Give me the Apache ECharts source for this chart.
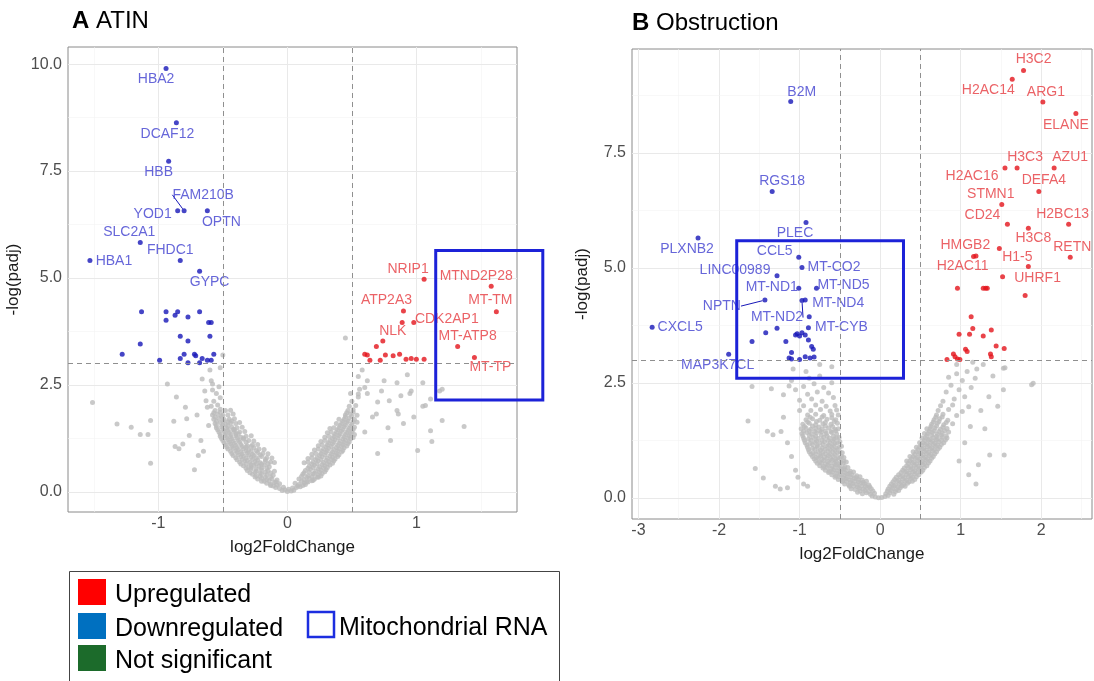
<!DOCTYPE html>
<html>
<head>
<meta charset="utf-8">
<script src="https://cdn.jsdelivr.net/npm/echarts@6/dist/echarts.min.js"></script>
<style>
html, body { margin: 0; padding: 0; background: #fff; }
#chart { width: 1094px; height: 681px; }
</style>
</head>
<body>
<div id="chart"></div>
<script>
// ---- panel A (ATIN) ----
const aDown = [
  [-0.94, 9.90, 'HBA2'], [-0.86, 8.63, 'DCAF12'], [-0.92, 7.73, 'HBB'],
  [-0.80, 6.57, 'FAM210B'], [-0.85, 6.57, 'YOD1'], [-0.62, 6.57, 'OPTN'],
  [-1.14, 5.83, 'SLC2A1'], [-0.83, 5.41, 'FHDC1'], [-1.53, 5.41, 'HBA1'],
  [-0.68, 5.16, 'GYPC'],
  [-1.13, 4.21, ''], [-0.94, 4.21, ''], [-0.94, 4.01, ''], [-0.87, 4.13, ''], [-0.85, 4.21, ''],
  [-0.77, 4.09, ''], [-0.68, 4.21, ''], [-0.61, 3.96, ''], [-0.59, 3.96, ''], [-0.83, 3.64, ''],
  [-0.77, 3.53, ''], [-0.60, 3.64, ''], [-1.14, 3.46, ''], [-1.28, 3.22, ''], [-0.99, 3.08, ''],
  [-0.83, 3.12, ''], [-0.80, 3.22, ''], [-0.77, 3.02, ''], [-0.72, 3.22, ''], [-0.71, 3.18, ''],
  [-0.68, 3.02, ''], [-0.66, 3.12, ''], [-0.62, 3.08, ''], [-0.59, 3.08, ''], [-0.57, 3.22, '']
];
const aUp = [
  [1.06, 4.97, 'NRIP1'], [1.58, 4.81, 'MTND2P28'], [1.62, 4.21, 'MT-TM'],
  [0.90, 4.23, 'ATP2A3'], [0.98, 3.96, 'CDK2AP1'], [0.89, 3.96, ''],
  [0.74, 3.53, 'NLK'], [1.32, 3.40, 'MT-ATP8'], [1.45, 3.14, 'MT-TP'],
  [0.69, 3.40, ''], [0.60, 3.22, ''], [0.62, 3.20, ''], [0.64, 3.08, ''], [0.72, 3.08, ''],
  [0.76, 3.20, ''], [0.82, 3.18, ''], [0.87, 3.22, ''], [0.92, 3.10, ''], [0.96, 3.12, ''],
  [1.00, 3.10, ''], [1.06, 3.10, '']
];
const aGray = [
  [-0.04,0.03],[0.0,0.01],[0.03,0.02],[-0.02,0.05],[0.05,0.04],[0.01,0.06],
  [-0.09,0.1],[-0.06,0.08],[-0.03,0.11],[0.04,0.09],[0.07,0.1],[0.1,0.12],[-0.11,0.14],[0.12,0.15],
  [-0.13,0.15],[-0.08,0.16],[0.08,0.14],[0.14,0.17],
  [-0.16,0.2],[-0.13,0.18],[-0.1,0.22],[-0.06,0.19],[0.06,0.2],[0.09,0.17],[0.13,0.21],[0.16,0.23],[-0.18,0.25],[0.19,0.26],
  [-0.2,0.25],[-0.14,0.26],[-0.09,0.24],[0.11,0.25],[0.15,0.24],[0.2,0.27],
  [-0.23,0.3],[-0.2,0.32],[-0.16,0.29],[-0.12,0.31],[-0.08,0.28],[0.09,0.3],[0.13,0.29],[0.17,0.32],[0.21,0.3],[0.24,0.34],
  [-0.25,0.35],[-0.21,0.36],[-0.17,0.34],[-0.13,0.35],[0.11,0.36],[0.15,0.34],[0.19,0.36],[0.23,0.35],[0.26,0.37],
  [-0.27,0.41],[-0.24,0.38],[-0.2,0.42],[-0.16,0.4],[-0.11,0.39],[0.12,0.41],[0.16,0.38],[0.2,0.42],[0.24,0.4],[0.27,0.43],
  [-0.29,0.45],[-0.25,0.46],[-0.21,0.44],[-0.17,0.46],[-0.13,0.44],[0.13,0.45],[0.17,0.46],[0.21,0.44],[0.25,0.46],[0.29,0.47],
  [-0.31,0.5],[-0.28,0.53],[-0.24,0.49],[-0.2,0.52],[-0.15,0.5],[-0.1,0.48],[0.14,0.5],[0.18,0.53],[0.22,0.49],[0.26,0.51],[0.3,0.52],
  [-0.32,0.55],[-0.28,0.57],[-0.24,0.54],[-0.2,0.56],[-0.16,0.55],[0.16,0.55],[0.2,0.57],[0.24,0.54],[0.28,0.56],[0.31,0.57],
  [-0.34,0.61],[-0.3,0.58],[-0.26,0.62],[-0.22,0.6],[-0.18,0.63],[-0.14,0.59],[0.17,0.6],[0.21,0.62],[0.25,0.59],[0.29,0.61],[0.33,0.63],
  [-0.36,0.65],[-0.32,0.66],[-0.28,0.64],[-0.24,0.66],[-0.2,0.65],[0.19,0.65],[0.23,0.66],[0.27,0.64],[0.31,0.66],[0.35,0.67],
  [-0.37,0.7],[-0.33,0.72],[-0.29,0.69],[-0.25,0.71],[-0.21,0.68],[-0.17,0.72],[0.2,0.7],[0.24,0.72],[0.28,0.69],[0.32,0.71],[0.36,0.73],
  [-0.39,0.75],[-0.35,0.76],[-0.31,0.74],[-0.27,0.76],[-0.23,0.75],[0.22,0.75],[0.26,0.76],[0.3,0.74],[0.34,0.76],[0.37,0.77],
  [-0.4,0.8],[-0.36,0.82],[-0.32,0.79],[-0.28,0.81],[-0.24,0.8],[-0.2,0.83],[0.23,0.8],[0.27,0.82],[0.31,0.79],[0.35,0.81],[0.39,0.83],
  [-0.42,0.85],[-0.38,0.86],[-0.34,0.84],[-0.3,0.86],[-0.26,0.85],[0.25,0.85],[0.29,0.86],[0.33,0.84],[0.37,0.86],[0.4,0.87],
  [-0.43,0.9],[-0.39,0.92],[-0.35,0.89],[-0.31,0.91],[-0.27,0.88],[-0.23,0.92],[0.26,0.9],[0.3,0.92],[0.34,0.89],[0.38,0.91],[0.42,0.93],
  [-0.44,0.95],[-0.4,0.96],[-0.36,0.94],[-0.32,0.96],[-0.28,0.95],[0.27,0.95],[0.31,0.96],[0.35,0.94],[0.39,0.96],[0.43,0.97],
  [-0.46,1.0],[-0.42,1.02],[-0.38,0.99],[-0.34,1.01],[-0.3,0.98],[-0.26,1.03],[0.28,1.0],[0.32,1.02],[0.36,0.99],[0.4,1.01],[0.44,1.03],
  [-0.47,1.05],[-0.43,1.06],[-0.39,1.04],[-0.35,1.06],[-0.32,1.05],[0.3,1.05],[0.34,1.06],[0.38,1.04],[0.42,1.06],[0.46,1.07],
  [-0.48,1.1],[-0.44,1.12],[-0.4,1.09],[-0.36,1.11],[-0.31,1.08],[0.31,1.1],[0.35,1.12],[0.39,1.09],[0.43,1.11],[0.47,1.13],
  [-0.49,1.15],[-0.45,1.16],[-0.41,1.14],[-0.37,1.16],[0.32,1.15],[0.36,1.16],[0.4,1.14],[0.44,1.16],[0.48,1.17],
  [-0.5,1.2],[-0.46,1.22],[-0.42,1.19],[-0.38,1.21],[-0.34,1.23],[0.33,1.2],[0.37,1.22],[0.41,1.19],[0.45,1.21],[0.49,1.24],
  [-0.51,1.25],[-0.47,1.26],[-0.43,1.24],[-0.39,1.26],[0.35,1.25],[0.39,1.26],[0.43,1.24],[0.47,1.26],[0.51,1.27],
  [-0.52,1.3],[-0.48,1.32],[-0.44,1.29],[-0.4,1.31],[-0.36,1.28],[0.36,1.3],[0.4,1.32],[0.44,1.29],[0.48,1.31],[0.52,1.34],
  [-0.52,1.35],[-0.48,1.36],[-0.44,1.34],[-0.4,1.36],[0.37,1.35],[0.41,1.36],[0.45,1.34],[0.49,1.36],
  [-0.53,1.4],[-0.49,1.42],[-0.45,1.39],[-0.41,1.41],[0.38,1.4],[0.42,1.42],[0.46,1.39],[0.5,1.41],
  [-0.54,1.45],[-0.5,1.46],[-0.46,1.44],[-0.42,1.46],[0.39,1.45],[0.43,1.46],[0.47,1.44],[0.51,1.46],
  [-0.55,1.5],[-0.51,1.52],[-0.47,1.49],[-0.43,1.51],[0.4,1.5],[0.44,1.52],[0.48,1.49],[0.52,1.51],
  [-0.55,1.55],[-0.5,1.56],[-0.46,1.54],[0.41,1.55],[0.45,1.56],[0.49,1.54],
  [-0.56,1.6],[-0.52,1.62],[-0.48,1.59],[-0.44,1.61],[0.42,1.6],[0.46,1.62],[0.5,1.59],[0.54,1.63],
  [-0.55,1.65],[-0.5,1.66],[-0.46,1.64],[0.43,1.65],[0.47,1.66],[0.51,1.64],
  [-0.57,1.7],[-0.53,1.72],[-0.49,1.69],[0.44,1.7],[0.48,1.72],[0.52,1.69],
  [-0.56,1.75],[-0.51,1.76],[0.45,1.75],[0.5,1.76],
  [-0.58,1.8],[-0.54,1.82],[-0.5,1.79],[0.45,1.8],[0.49,1.82],[0.54,1.79],
  [-0.57,1.85],[-0.52,1.86],[0.46,1.85],[0.51,1.86],
  [-0.56,1.9],[-0.52,1.93],[0.47,1.9],[0.51,1.92],
  [-0.59,2.0],[-0.54,2.03],[0.48,2.0],[0.53,2.02],
  [-0.57,2.12],[-0.52,2.2],[-0.55,2.3],[-0.58,2.38],[-0.53,2.46],[0.5,2.12],[0.55,2.22],[0.49,2.3],[0.56,2.4],
  [-0.13,0.7],[-0.1,0.69],[-0.15,0.66],[-0.16,0.8],[-0.12,0.79],[-0.17,0.76],[-0.19,0.9],[-0.15,0.89],[-0.21,0.86],
  [-0.22,1.0],[-0.18,0.99],[-0.24,0.96],[-0.27,1.1],[-0.23,1.11],[-0.28,1.06],[-0.3,1.2],[-0.26,1.19],[-0.32,1.16],
  [-0.32,1.3],[-0.28,1.31],[-0.34,1.26],[-0.37,1.4],[-0.33,1.41],[-0.38,1.36],[-0.39,1.5],[-0.35,1.51],[-0.41,1.46],
  [-0.4,1.6],[-0.37,1.62],[-0.45,1.7],[-0.41,1.71],[-0.43,1.66],[-0.46,1.8],[-0.42,1.82],[-0.48,1.9],[-0.44,1.91],
  [0.16,0.7],[0.13,0.68],[0.19,0.8],[0.16,0.78],[0.22,0.9],[0.19,0.88],[0.24,1.0],[0.21,0.98],[0.27,1.1],[0.24,1.08],
  [0.29,1.2],[0.26,1.18],[0.32,1.3],[0.29,1.28],[0.34,1.4],[0.31,1.38],[0.36,1.5],[0.33,1.48],[0.38,1.6],[0.4,1.7],
  [-1.51,2.09],[-1.32,1.59],[-1.21,1.51],[-1.14,1.34],[-1.08,1.34],[-1.06,0.67],[-1.06,1.67],[-0.93,2.52],
  [-0.86,2.22],[-0.88,1.65],[-0.87,1.06],[-0.84,1.01],[-0.81,1.12],[-0.79,1.98],[-0.78,1.71],[-0.76,1.32],
  [-0.72,0.52],[-0.7,1.8],[-0.69,0.85],[-0.67,1.2],[-0.66,2.64],[-0.64,2.36],[-0.63,2.13],[-0.62,1.98],
  [-0.59,2.6],[-0.58,2.52],[-0.61,1.55],[-0.65,0.95],[-0.6,2.85],[-0.5,3.2],[-0.52,2.9],
  [0.45,3.6],[0.58,2.85],[0.62,2.6],[0.73,2.36],[0.7,2.1],[0.88,2.25],[0.93,2.74],[0.95,2.3],[0.85,1.9],
  [1.01,0.97],[1.11,1.43],[1.12,1.18],[1.2,1.67],[1.18,2.36],[1.37,1.53],[1.2,2.4],[0.78,1.5],[0.9,1.6],
  [0.66,1.75],[0.8,1.2],[0.7,0.9],[0.6,1.4],[1.05,2.0],[0.98,1.75],[0.62,2.3],[0.75,2.6],[1.05,2.55],
  [0.55,2.7],[0.85,2.55],[0.55,2.29],[0.6,2.44],[0.79,2.13],[0.86,1.82],[0.69,1.82],[0.96,2.36],[1.07,2.02],[1.11,2.17]
];

// ---- panel B (Obstruction) ----
const bDown = [
  [-1.11, 8.62, 'B2M'], [-1.34, 6.66, 'RGS18'], [-0.92, 5.99, 'PLEC'], [-2.26, 5.65, 'PLXNB2'],
  [-1.01, 5.23, 'CCL5'], [-0.97, 5.01, 'MT-CO2'], [-1.28, 4.83, 'LINC00989'], [-1.01, 4.56, 'MT-ND1'],
  [-0.79, 4.56, 'MT-ND5'], [-1.43, 4.30, 'NPTN'], [-0.93, 4.30, 'MT-ND4'], [-0.97, 4.29, 'MT-ND2'],
  [-0.89, 3.70, 'MT-CYB'], [-2.83, 3.71, 'CXCL5'], [-1.88, 3.12, 'MAP3K7CL'],
  [-0.88, 3.94, ''], [-1.28, 3.69, ''], [-1.42, 3.59, ''], [-1.59, 3.40, ''], [-1.17, 3.40, ''],
  [-1.05, 3.54, ''], [-1.03, 3.57, ''], [-1.00, 3.52, ''], [-0.97, 3.59, ''], [-0.93, 3.54, ''],
  [-0.89, 3.43, ''], [-0.85, 3.29, ''], [-0.83, 3.23, ''], [-1.10, 3.16, ''], [-1.13, 3.04, ''],
  [-1.10, 3.02, ''], [-1.00, 3.01, ''], [-0.93, 3.07, ''], [-0.87, 3.04, ''], [-0.82, 3.06, '']
];
const bUp = [
  [1.78, 9.29, 'H3C2'], [1.64, 9.10, 'H2AC14'], [2.02, 8.61, 'ARG1'], [2.43, 8.36, 'ELANE'],
  [1.55, 7.17, 'H2AC16'], [1.70, 7.17, 'H3C3'], [2.16, 7.17, 'AZU1'], [1.97, 6.66, 'DEFA4'],
  [1.51, 6.38, 'STMN1'], [1.58, 5.95, 'CD24'], [2.34, 5.95, 'H2BC13'], [1.84, 5.86, 'H3C8'],
  [1.48, 5.42, 'HMGB2'], [1.16, 5.25, 'H2AC11'], [1.19, 5.26, ''], [1.84, 5.03, 'H1-5'],
  [2.36, 5.23, 'RETN'], [1.52, 4.81, 'UHRF1'], [1.80, 4.40, ''],
  [0.96, 4.56, ''], [1.28, 4.56, ''], [1.31, 4.56, ''], [1.33, 4.56, ''], [1.13, 3.94, ''],
  [0.98, 3.56, ''], [1.11, 3.56, ''], [1.15, 3.68, ''], [1.28, 3.52, ''], [1.38, 3.65, ''],
  [1.44, 3.30, ''], [1.54, 3.25, ''], [1.06, 3.23, ''], [1.08, 3.18, ''], [0.91, 3.13, ''],
  [0.93, 3.07, ''], [0.83, 3.01, ''], [0.96, 3.02, ''], [0.99, 3.01, ''], [1.37, 3.13, ''], [1.38, 3.07, '']
];
const bGray = [
  [-0.06,0.02],[-0.02,0.0],[0.02,0.01],[0.06,0.03],[-0.1,0.04],[0.1,0.05],
  [-0.22,0.09],[-0.17,0.11],[-0.12,0.08],[-0.07,0.1],[0.07,0.09],[0.12,0.11],[0.17,0.08],[-0.28,0.12],
  [-0.25,0.15],[-0.19,0.16],[-0.14,0.14],[-0.09,0.15],[0.09,0.15],[0.14,0.16],[0.19,0.14],[0.23,0.16],
  [-0.36,0.2],[-0.31,0.18],[-0.26,0.21],[-0.21,0.19],[-0.16,0.22],[-0.11,0.2],[0.1,0.19],[0.15,0.21],[0.2,0.18],[0.25,0.22],
  [-0.38,0.25],[-0.33,0.26],[-0.28,0.24],[-0.23,0.26],[-0.18,0.25],[-0.13,0.24],[0.12,0.25],[0.17,0.26],[0.22,0.24],[0.27,0.26],[0.31,0.25],
  [-0.44,0.3],[-0.39,0.28],[-0.34,0.31],[-0.29,0.29],[-0.24,0.32],[-0.19,0.3],[-0.14,0.28],[0.14,0.3],[0.19,0.28],[0.24,0.31],[0.29,0.29],[0.34,0.32],
  [-0.47,0.35],[-0.42,0.36],[-0.37,0.34],[-0.32,0.36],[-0.27,0.35],[-0.21,0.34],[-0.17,0.36],[0.16,0.35],[0.21,0.36],[0.26,0.34],[0.31,0.36],[0.36,0.35],[0.4,0.36],
  [-0.52,0.4],[-0.47,0.38],[-0.42,0.41],[-0.37,0.39],[-0.32,0.42],[-0.27,0.4],[-0.22,0.38],[0.18,0.4],[0.23,0.38],[0.28,0.41],[0.33,0.39],[0.38,0.42],[0.43,0.4],
  [-0.56,0.45],[-0.51,0.46],[-0.46,0.44],[-0.41,0.46],[-0.36,0.45],[-0.3,0.44],[-0.25,0.46],[0.2,0.45],[0.25,0.46],[0.3,0.44],[0.35,0.46],[0.4,0.45],[0.45,0.46],
  [-0.6,0.5],[-0.55,0.48],[-0.5,0.51],[-0.45,0.49],[-0.4,0.52],[-0.35,0.5],[-0.29,0.48],[0.23,0.5],[0.28,0.48],[0.33,0.51],[0.38,0.49],[0.43,0.52],[0.48,0.5],
  [-0.64,0.55],[-0.59,0.56],[-0.54,0.54],[-0.49,0.56],[-0.44,0.55],[-0.38,0.54],[-0.33,0.56],[0.26,0.55],[0.31,0.56],[0.36,0.54],[0.41,0.56],[0.46,0.55],[0.51,0.56],
  [-0.68,0.6],[-0.63,0.58],[-0.58,0.61],[-0.53,0.59],[-0.48,0.62],[-0.43,0.6],[-0.37,0.58],[0.28,0.6],[0.33,0.58],[0.38,0.61],[0.43,0.59],[0.48,0.62],[0.53,0.6],
  [-0.71,0.65],[-0.66,0.66],[-0.61,0.64],[-0.56,0.66],[-0.51,0.65],[-0.45,0.64],[-0.4,0.66],[0.3,0.65],[0.35,0.66],[0.4,0.64],[0.45,0.66],[0.5,0.65],[0.55,0.66],
  [-0.75,0.7],[-0.7,0.68],[-0.65,0.71],[-0.6,0.69],[-0.55,0.72],[-0.5,0.7],[-0.44,0.68],[0.33,0.7],[0.38,0.68],[0.43,0.71],[0.48,0.69],[0.53,0.72],[0.58,0.7],
  [-0.78,0.75],[-0.73,0.76],[-0.68,0.74],[-0.63,0.76],[-0.57,0.75],[-0.52,0.74],[-0.46,0.76],[0.35,0.75],[0.4,0.76],[0.45,0.74],[0.5,0.76],[0.55,0.75],[0.6,0.76],
  [-0.8,0.8],[-0.75,0.78],[-0.7,0.81],[-0.65,0.79],[-0.6,0.82],[-0.55,0.8],[-0.49,0.78],[0.37,0.8],[0.42,0.78],[0.47,0.81],[0.52,0.79],[0.57,0.82],[0.62,0.8],
  [-0.82,0.85],[-0.77,0.86],[-0.72,0.84],[-0.66,0.86],[-0.61,0.85],[-0.55,0.84],[-0.5,0.86],[0.39,0.85],[0.44,0.86],[0.49,0.84],[0.54,0.86],[0.59,0.85],[0.64,0.86],
  [-0.84,0.9],[-0.79,0.88],[-0.74,0.91],[-0.69,0.89],[-0.64,0.92],[-0.58,0.9],[-0.52,0.88],[0.41,0.9],[0.46,0.88],[0.51,0.91],[0.56,0.89],[0.61,0.92],[0.66,0.9],
  [-0.86,0.95],[-0.8,0.96],[-0.74,0.94],[-0.68,0.96],[-0.62,0.95],[-0.56,0.94],[0.43,0.95],[0.48,0.96],[0.53,0.94],[0.58,0.96],[0.63,0.95],[0.68,0.96],
  [-0.88,1.0],[-0.83,0.98],[-0.77,1.01],[-0.71,0.99],[-0.65,1.02],[-0.59,1.0],[-0.53,0.98],[0.45,1.0],[0.5,0.98],[0.55,1.01],[0.6,0.99],[0.65,1.02],[0.7,1.0],
  [-0.89,1.05],[-0.81,1.06],[-0.74,1.04],[-0.68,1.06],[-0.62,1.05],[-0.56,1.04],[0.47,1.05],[0.52,1.06],[0.57,1.04],[0.62,1.06],[0.67,1.05],[0.72,1.06],
  [-0.9,1.1],[-0.84,1.08],[-0.78,1.11],[-0.72,1.09],[-0.66,1.12],[-0.6,1.1],[-0.54,1.08],[0.49,1.1],[0.54,1.08],[0.59,1.11],[0.64,1.09],[0.69,1.12],[0.74,1.1],
  [-0.91,1.15],[-0.84,1.16],[-0.78,1.14],[-0.71,1.16],[-0.64,1.15],[-0.58,1.14],[0.51,1.15],[0.56,1.16],[0.61,1.14],[0.66,1.16],[0.71,1.15],[0.76,1.16],
  [-0.93,1.2],[-0.87,1.18],[-0.81,1.21],[-0.75,1.19],[-0.69,1.22],[-0.62,1.2],[-0.56,1.18],[0.53,1.2],[0.58,1.18],[0.63,1.21],[0.68,1.19],[0.73,1.22],[0.79,1.2],
  [-0.94,1.25],[-0.86,1.26],[-0.79,1.24],[-0.72,1.26],[-0.65,1.25],[-0.59,1.24],[0.55,1.25],[0.6,1.26],[0.65,1.24],[0.7,1.26],[0.76,1.25],[0.81,1.26],
  [-0.95,1.3],[-0.89,1.28],[-0.83,1.31],[-0.77,1.29],[-0.7,1.32],[-0.63,1.3],[-0.57,1.28],[0.56,1.3],[0.61,1.28],[0.66,1.31],[0.71,1.29],[0.77,1.32],[0.83,1.3],
  [-0.96,1.35],[-0.88,1.36],[-0.8,1.34],[-0.73,1.36],[-0.66,1.35],[-0.58,1.34],[0.58,1.35],[0.64,1.36],[0.7,1.34],[0.76,1.36],[0.82,1.35],
  [-0.97,1.4],[-0.91,1.42],[-0.85,1.39],[-0.79,1.41],[-0.73,1.43],[-0.67,1.4],[-0.6,1.42],[-0.54,1.39],[0.59,1.4],[0.65,1.42],[0.71,1.39],[0.77,1.41],[0.85,1.43],
  [-0.95,1.45],[-0.88,1.46],[-0.81,1.44],[-0.75,1.46],[-0.68,1.45],[-0.61,1.44],[-0.55,1.46],[0.61,1.45],[0.67,1.46],[0.73,1.44],[0.8,1.46],
  [-0.98,1.5],[-0.92,1.52],[-0.86,1.49],[-0.8,1.51],[-0.72,1.5],[-0.64,1.52],[-0.56,1.49],[0.62,1.5],[0.68,1.52],[0.75,1.49],[0.83,1.51],
  [-0.94,1.55],[-0.84,1.56],[-0.76,1.54],[-0.68,1.56],[-0.59,1.55],[0.63,1.55],[0.7,1.56],[0.78,1.54],
  [-0.96,1.6],[-0.88,1.62],[-0.8,1.59],[-0.71,1.61],[-0.61,1.6],[-0.53,1.62],[0.64,1.6],[0.71,1.62],[0.79,1.59],[0.9,1.61],
  [-0.9,1.65],[-0.79,1.66],[-0.68,1.64],[-0.57,1.66],[0.66,1.65],[0.73,1.66],[0.82,1.64],
  [-0.92,1.7],[-0.84,1.72],[-0.75,1.69],[-0.66,1.71],[-0.55,1.7],[0.67,1.7],[0.74,1.72],[0.84,1.69],
  [-0.87,1.75],[-0.72,1.76],[-0.6,1.74],[0.69,1.75],[0.77,1.76],
  [-0.9,1.8],[-0.8,1.82],[-0.7,1.79],[-0.6,1.81],[-0.52,1.8],[0.7,1.8],[0.78,1.82],[0.95,1.79],
  [-0.86,1.9],[-0.74,1.92],[-0.62,1.89],[-0.54,1.91],[0.72,1.9],[0.85,1.92],[1.02,1.88],
  [-0.95,2.0],[-0.8,2.02],[-0.67,1.99],[-0.56,2.01],[0.75,2.0],[0.9,2.02],[1.1,1.98],
  [-0.45,0.8],[-0.42,0.78],[-0.48,0.9],[-0.45,0.88],[-0.5,1.0],[-0.47,0.98],[-0.51,1.1],[-0.48,1.12],
  [-0.53,1.2],[-0.5,1.22],[-0.54,1.3],[-0.51,1.31],[-0.52,1.5],
  [0.33,0.8],[0.37,0.9],[0.41,1.0],[0.45,1.1],[0.49,1.2],[0.52,1.3],[0.55,1.4],[0.58,1.5],
  [-1.0,2.12],[-0.85,2.15],[-0.72,2.1],[-0.58,2.18],[-0.9,2.25],[-0.78,2.3],[-0.64,2.28],[-1.05,2.35],
  [-0.95,2.42],[-0.82,2.48],[-0.7,2.4],[-0.6,2.5],[-1.1,2.55],[-0.88,2.6],[-0.75,2.65],
  [0.78,2.1],[0.92,2.15],[1.05,2.2],[0.82,2.3],[0.98,2.35],[1.13,2.4],[0.88,2.45],[1.02,2.55],
  [1.18,2.6],[0.95,2.7],[1.08,2.75],[1.2,2.8],[0.85,2.62],
  [-1.59,2.42],[-1.64,1.67],[-1.55,0.64],[-1.45,0.43],[-1.33,1.37],[-1.23,1.44],[-1.24,0.19],[-1.35,2.37],
  [-1.2,2.24],[-1.13,2.43],[-1.08,2.8],[-1.15,1.2],[-1.1,0.9],[-1.3,0.25],[-1.15,0.22],[-1.05,0.6],
  [-1.2,1.75],[-1.0,1.9],[-1.02,0.45],[-0.95,0.3],[-0.9,0.25],[-1.4,1.45],[-0.6,2.85],[-0.75,2.9],[-0.92,2.75],
  [1.88,2.46],[1.53,2.82],[1.53,2.35],[1.46,1.99],[1.36,0.93],[1.54,0.93],[1.19,0.3],[1.22,0.72],
  [1.3,1.5],[1.25,1.9],[1.12,1.55],[1.05,1.2],[0.98,0.8],[1.1,0.5],[1.35,2.2],[1.55,2.83],
  [1.9,2.49],[1.4,2.65],[1.28,2.9],[1.15,2.95],[0.95,2.9]
];

// axis ranges, ticks, thresholds, highlighted mitochondrial boxes [x0, y0, x1, y1]
const aXRange = [-1.70, 1.78], aYRange = [-0.47, 10.4];
const bXRange = [-3.08, 2.63], bYRange = [-0.46, 9.76];
const aXTicks = [-1, 0, 1], aXMinor = [-1.5, -0.5, 0.5, 1.5];
const bXTicks = [-3, -2, -1, 0, 1, 2], bXMinor = [-2.5, -1.5, -0.5, 0.5, 1.5, 2.5];
const aYTicks = [0, 2.5, 5, 7.5, 10], bYTicks = [0, 2.5, 5, 7.5];
const yMinor = [1.25, 3.75, 6.25, 8.75];
const fcCut = [-0.5, 0.5], padjCut = 3;
const mitoA = [1.15, 5.64, 1.98, 2.15];
const mitoB = [-1.78, 5.59, 0.29, 2.60];
const legendItems = ['Upregulated', 'Downregulated', 'Not significant'];
const legendColors = ['#ff0000', '#0070c0', '#1c6b2b'];

// label placement (pixel offsets from the point), style only
const labelOffset = {
  'HBA2': [-10, 11], 'DCAF12': [-9, 11], 'HBB': [-10, 11], 'FAM210B': [19, -16], 'YOD1': [-25, 3],
  'OPTN': [14, 11], 'SLC2A1': [-11, -10], 'FHDC1': [-10, -10], 'HBA1': [24, 1], 'GYPC': [10, 11],
  'NRIP1': [-16, -10], 'MTND2P28': [-15, -10], 'MT-TM': [-6, -12], 'ATP2A3': [-17, -11],
  'CDK2AP1': [33, -3], 'NLK': [10, -10], 'MT-ATP8': [10, -10], 'MT-TP': [16, 10],
  'B2M': [11, -9], 'RGS18': [10, -10], 'PLEC': [-11, 11], 'PLXNB2': [-11, 11], 'CCL5': [-24, -6],
  'MT-CO2': [32, 0], 'LINC00989': [-42, -6], 'MT-ND1': [-27, -1], 'MT-ND5': [27, -3],
  'NPTN': [-43, 6], 'MT-ND4': [33, 3], 'MT-ND2': [-25, 17], 'MT-CYB': [33, -1],
  'CXCL5': [28, 0], 'MAP3K7CL': [-11, 11],
  'H3C2': [10, -11], 'H2AC14': [-24, 11], 'ARG1': [3, -10], 'ELANE': [-10, 12], 'H3C3': [8, -11],
  'AZU1': [16, -11], 'H2AC16': [-33, 8], 'DEFA4': [5, -11], 'STMN1': [-11, -10], 'CD24': [-25, -9],
  'H2BC13': [-6, -10], 'H3C8': [5, 10], 'HMGB2': [-34, -3], 'H2AC11': [-11, 10], 'H1-5': [-11, -9],
  'RETN': [2, -10], 'UHRF1': [35, 1]
};
const withLeader = ['FAM210B', 'NPTN', 'MT-ND2'];

const FONT = 'Liberation Sans, Arial, sans-serif';
const BLUE = '#1717b8', RED = '#e3141b', GRAY = '#bcbcbc';

function makeX(gi, range, ticks) {
  return {
    gridIndex: gi, type: 'value', min: range[0], max: range[1],
    axisLine: { show: false },
    axisTick: { show: true, length: 3, lineStyle: { color: '#444' }, customValues: ticks },
    axisLabel: { color: '#4d4d4d', fontSize: 16, fontFamily: FONT, margin: 4, customValues: ticks,
      formatter: v => String(v) },
    splitLine: { show: false },
    name: 'log2FoldChange', nameLocation: 'middle', nameGap: 27,
    nameTextStyle: { color: '#1a1a1a', fontSize: 17, fontFamily: FONT }
  };
}
function makeY(gi, range, ticks, gap) {
  return {
    gridIndex: gi, type: 'value', min: range[0], max: range[1],
    axisLine: { show: false },
    axisTick: { show: true, length: 3, lineStyle: { color: '#444' }, customValues: ticks },
    axisLabel: { color: '#4d4d4d', fontSize: 16, fontFamily: FONT, margin: 6, customValues: ticks,
      formatter: v => v.toFixed(1) },
    splitLine: { show: false },
    name: '-log(padj)', nameLocation: 'middle', nameGap: gap,
    nameTextStyle: { color: '#1a1a1a', fontSize: 17, fontFamily: FONT }
  };
}
function gridLines(xMajor, xMinor, yMajor) {
  const major = { color: '#e9e9e9', width: 1, type: 'solid' };
  const minor = { color: '#f4f4f4', width: 0.6, type: 'solid' };
  return {
    silent: true, symbol: ['none', 'none'], z: 1, animation: false, label: { show: false },
    lineStyle: major,
    data: [].concat(
      xMajor.map(v => ({ xAxis: v, lineStyle: major })),
      xMinor.map(v => ({ xAxis: v, lineStyle: minor })),
      yMajor.map(v => ({ yAxis: v, lineStyle: major })),
      yMinor.map(v => ({ yAxis: v, lineStyle: minor }))
    )
  };
}
function cutLines() {
  return {
    silent: true, symbol: ['none', 'none'], animation: false, label: { show: false },
    lineStyle: { color: '#8f8f8f', width: 1, type: [5, 4] },
    data: [{ xAxis: fcCut[0] }, { xAxis: fcCut[1] }, { yAxis: padjCut }]
  };
}
function grayPoints(gi, arr, xMajor, xMinor, yMajor) {
  return {
    type: 'scatter', xAxisIndex: gi, yAxisIndex: gi, z: 2, silent: true,
    symbolSize: 5, itemStyle: { color: GRAY },
    data: arr, markLine: gridLines(xMajor, xMinor, yMajor)
  };
}
function sigPoints(gi, arr, color, textColor, withCut) {
  const s = {
    type: 'scatter', xAxisIndex: gi, yAxisIndex: gi, z: 3, silent: true,
    symbolSize: 5, itemStyle: { color: color },
    label: { show: false, position: 'inside', formatter: '{b}', color: textColor, fontSize: 14, fontFamily: FONT },
    labelLine: { show: false, lineStyle: { color: color, width: 1 } },
    labelLayout: function (p) {
      const o = labelOffset[arr[p.dataIndex][2]] || [0, 0];
      return { dx: o[0], dy: o[1] };
    },
    data: arr.map(d => ({
      value: [d[0], d[1]], name: d[2],
      label: { show: d[2] !== '' },
      labelLine: { show: withLeader.indexOf(d[2]) >= 0, length2: 0 }
    }))
  };
  if (withCut) s.markLine = cutLines();
  return s;
}

const chart = echarts.init(document.getElementById('chart'), null, { renderer: 'canvas' });
chart.setOption({
  animation: false,
  backgroundColor: '#fff',
  title: [
    { left: 72, top: 9, padding: 0, text: '{b|A} ATIN',
      textStyle: { fontSize: 24, fontWeight: 'normal', fontFamily: FONT, color: '#000',
        rich: { b: { fontSize: 24, fontWeight: 'bold', fontFamily: FONT, color: '#000' } } } },
    { left: 632, top: 11, padding: 0, text: '{b|B} Obstruction',
      textStyle: { fontSize: 24, fontWeight: 'normal', fontFamily: FONT, color: '#000',
        rich: { b: { fontSize: 24, fontWeight: 'bold', fontFamily: FONT, color: '#000' } } } }
  ],
  grid: [
    { left: 68, top: 47, width: 449, height: 465, show: true, borderColor: '#8a8a8a', borderWidth: 1, backgroundColor: '#fff' },
    { left: 632, top: 49, width: 460, height: 470, show: true, borderColor: '#8a8a8a', borderWidth: 1, backgroundColor: '#fff' }
  ],
  xAxis: [makeX(0, aXRange, aXTicks), makeX(1, bXRange, bXTicks)],
  yAxis: [makeY(0, aYRange, aYTicks, 46), makeY(1, bYRange, bYTicks, 41)],
  series: [
    grayPoints(0, aGray, aXTicks, aXMinor, aYTicks),
    sigPoints(0, aDown, BLUE, '#4040d0', false),
    sigPoints(0, aUp, RED, '#e63b40', true),
    grayPoints(1, bGray, bXTicks, bXMinor, bYTicks),
    sigPoints(1, bDown, BLUE, '#4040d0', false),
    sigPoints(1, bUp, RED, '#e63b40', true)
  ]
});

// mitochondrial boxes placed through the axes, plus the key underneath
function boxRect(gi, b) {
  const p0 = chart.convertToPixel({ gridIndex: gi }, [b[0], b[1]]);
  const p1 = chart.convertToPixel({ gridIndex: gi }, [b[2], b[3]]);
  return { x: p0[0], y: p0[1], width: p1[0] - p0[0], height: p1[1] - p0[1] };
}
const graphics = [
  { type: 'rect', z: 50, shape: boxRect(0, mitoA), style: { fill: 'none', stroke: '#1c22d8', lineWidth: 3 } },
  { type: 'rect', z: 50, shape: boxRect(1, mitoB), style: { fill: 'none', stroke: '#1c22d8', lineWidth: 3 } },
  { type: 'rect', z: 50, shape: { x: 69.5, y: 571.5, width: 490, height: 140 }, style: { fill: '#fff', stroke: '#444', lineWidth: 1 } }
];
legendItems.forEach((t, i) => {
  const cy = [592, 626, 658][i];
  graphics.push({ type: 'rect', z: 51, shape: { x: 78, y: cy - 13, width: 28, height: 26 }, style: { fill: legendColors[i] } });
  graphics.push({ type: 'text', z: 51, x: 115, y: cy + 3,
    style: { text: t, fill: '#000', font: '25px ' + FONT, textVerticalAlign: 'middle' } });
});
graphics.push({ type: 'rect', z: 51, shape: { x: 308, y: 612, width: 26, height: 25 }, style: { fill: '#fff', stroke: '#1c2ee0', lineWidth: 2.5 } });
graphics.push({ type: 'text', z: 51, x: 339, y: 628,
  style: { text: 'Mitochondrial RNA', fill: '#000', font: '25px ' + FONT, textVerticalAlign: 'middle' } });
chart.setOption({ graphic: graphics });
</script>
</body>
</html>
